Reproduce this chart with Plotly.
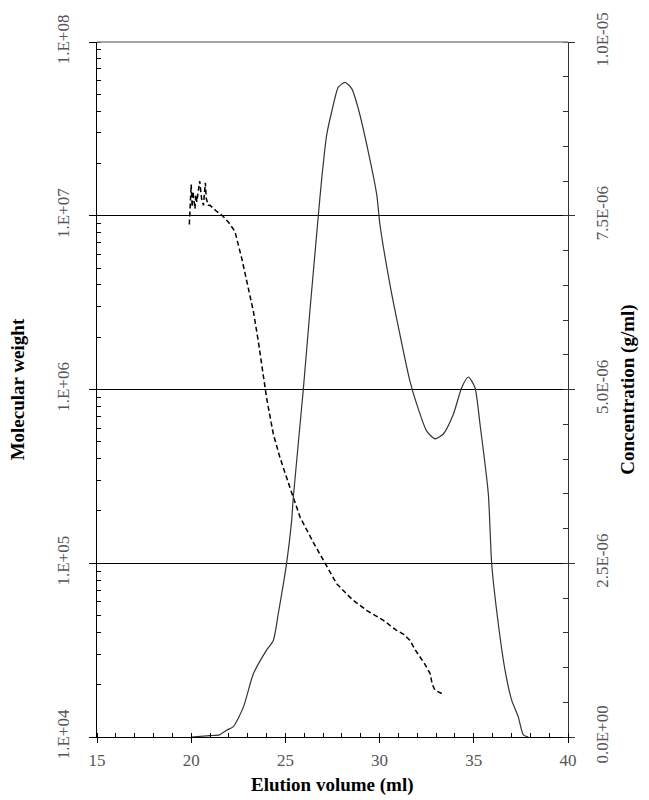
import plotly.graph_objects as go

# Concentration (g/ml) vs elution volume (ml)
conc_x = [20.0, 21.0, 21.5, 21.9, 22.24, 22.77, 23.3, 24.0, 24.36, 24.62, 24.89, 25.06, 25.33, 25.42,
          25.95, 26.3, 26.75, 26.93, 27.19, 27.46, 27.81, 28.16, 28.52, 28.87, 29.4, 29.85, 30.02,
          30.55, 31.08, 31.61, 31.97, 32.5, 32.94, 33.38, 33.91, 34.36, 34.71, 35.06, 35.33, 35.77,
          35.95, 36.3, 36.66, 37.01, 37.36, 37.63, 37.9]
conc_y = [0.0, 0.02e-6, 0.03e-6, 0.1e-6, 0.15e-6, 0.43e-6, 0.91e-6, 1.25e-6, 1.39e-6, 1.77e-6, 2.2e-6,
          2.49e-6, 3.11e-6, 3.45e-6, 5.0e-6, 6.13e-6, 7.51e-6, 8.04e-6, 8.66e-6, 9.0e-6, 9.35e-6,
          9.42e-6, 9.33e-6, 9.04e-6, 8.42e-6, 7.8e-6, 7.37e-6, 6.51e-6, 5.79e-6, 5.12e-6, 4.79e-6,
          4.4e-6, 4.29e-6, 4.36e-6, 4.64e-6, 5.03e-6, 5.18e-6, 5.03e-6, 4.5e-6, 3.5e-6, 2.49e-6,
          1.63e-6, 0.96e-6, 0.53e-6, 0.29e-6, 0.03e-6, 0.0]

# Molecular weight vs elution volume (ml)
mw_x = [19.9, 19.95, 20.0, 20.05, 20.1, 20.2, 20.25, 20.3, 20.45, 20.55, 20.65, 20.75, 20.8, 20.9, 21.0,
        21.3, 21.7, 22.0, 22.32, 22.68, 23.03, 23.3, 23.56, 23.83, 24.0, 24.36, 24.71, 25.24, 25.78,
        26.48, 27.0, 27.72, 28.6, 29.31, 30.2, 30.9, 31.3, 31.6, 31.9, 32.15, 32.4, 32.68, 32.8, 32.94,
        33.1, 33.3]
mw_y = [8.91e6, 1.148e7, 1.514e7, 1.122e7, 1.380e7, 1.096e7, 1.318e7, 1.202e7, 1.585e7, 1.259e7,
        1.148e7, 1.549e7, 1.259e7, 1.148e7, 1.148e7,
        1.072e7, 9.91e6, 9.12e6, 8.13e6, 5.70e6, 3.84e6, 2.82e6, 1.90e6, 1.17e6, 8.97e5, 5.53e5,
        4.06e5, 2.73e5, 1.84e5, 1.32e5, 1.04e5, 7.62e4, 6.11e4, 5.36e4, 4.69e4, 4.11e4, 3.89e4,
        3.61e4, 3.16e4, 2.89e4, 2.63e4, 2.32e4, 2.0e4, 1.86e4, 1.82e4, 1.78e4]

x_ticks = [15, 20, 25, 30, 35, 40]
mw_ticks = [1e4, 1e5, 1e6, 1e7, 1e8]
mw_labels = ["1.E+04", "1.E+05", "1.E+06", "1.E+07", "1.E+08"]
conc_ticks = [0.0, 2.5e-6, 5.0e-6, 7.5e-6, 1.0e-5]
conc_labels = ["0.0E+00", "2.5E-06", "5.0E-06", "7.5E-06", "1.0E-05"]

FONT = "Liberation Serif"

fig = go.Figure()
fig.add_trace(go.Scatter(x=mw_x, y=mw_y, mode="lines", yaxis="y",
                         line=dict(color="black", width=1.5, dash="5px,3px"), showlegend=False))
fig.add_trace(go.Scatter(x=conc_x, y=conc_y, mode="lines", yaxis="y2",
                         line=dict(color="#333333", width=1.2, shape="spline", smoothing=0.6),
                         showlegend=False))

fig.update_layout(
    width=649, height=800,
    margin=dict(l=97, r=81, t=40, b=63),
    paper_bgcolor="white", plot_bgcolor="white",
    font=dict(family=FONT, size=16, color="#444"),
    xaxis=dict(range=[15, 40], tickvals=x_ticks, showgrid=False, zeroline=False,
               showline=True, linecolor="black", linewidth=1,
               ticks="outside", ticklen=5, tickcolor="black",
               minor=dict(dtick=1, ticks="inside", ticklen=4, tickcolor="black", showgrid=False),
               ticklabelstandoff=3, tickfont=dict(family=FONT, size=17, color="#555")),
    yaxis=dict(type="log", range=[4, 8], tickvals=mw_ticks, ticktext=mw_labels,
               showgrid=True, gridcolor="black", gridwidth=1, zeroline=False,
               showline=True, linecolor="black", linewidth=1,
               ticks="outside", ticklen=7, tickcolor="black",
               minor=dict(ticks="inside", ticklen=4, tickcolor="black", showgrid=False, dtick="D1"),
               tickangle=-90, ticklabelstandoff=13,
               tickfont=dict(family=FONT, size=17, color="#555")),
    yaxis2=dict(range=[0, 1e-5], overlaying="y", side="right", tickvals=conc_ticks,
                ticktext=conc_labels, showgrid=False, zeroline=False,
                showline=True, linecolor="#333", linewidth=1,
                ticks="outside", ticklen=6, tickcolor="#333",
                minor=dict(dtick=5e-7, ticks="inside", ticklen=5, tickcolor="#333", showgrid=False),
                tickangle=-90, ticklabelstandoff=13,
                tickfont=dict(family=FONT, size=17, color="#555")),
)

# top border line (grey)
fig.add_shape(type="line", xref="paper", yref="paper", x0=0, x1=1, y0=1, y1=1,
              line=dict(color="#888", width=1.5))

fig.add_annotation(text="<b>Molecular weight</b>", xref="paper", yref="paper",
                   x=-0.168, y=0.5, textangle=-90, showarrow=False,
                   xanchor="center", yanchor="middle",
                   font=dict(family=FONT, size=19, color="black"))
fig.add_annotation(text="<b>Concentration (g/ml)</b>", xref="paper", yref="paper",
                   x=1.126, y=0.5, textangle=-90, showarrow=False,
                   xanchor="center", yanchor="middle",
                   font=dict(family=FONT, size=19, color="black"))
fig.add_annotation(text="<b>Elution volume (ml)</b>", xref="paper", yref="paper",
                   x=0.5, y=-0.069, showarrow=False, xanchor="center", yanchor="middle",
                   font=dict(family=FONT, size=19, color="black"))

fig.write_html("out.html")
